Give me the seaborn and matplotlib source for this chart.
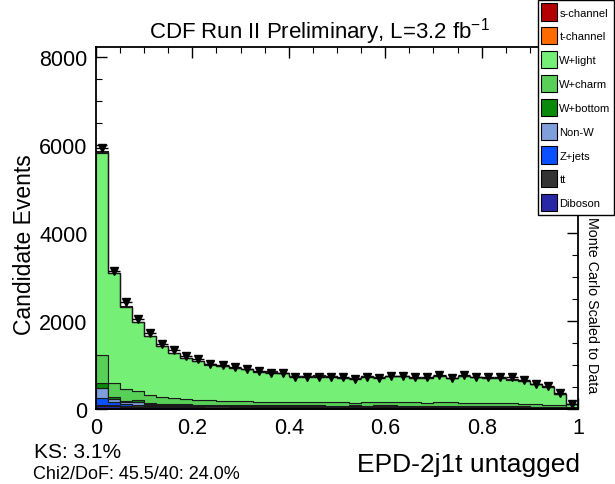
# %% EPD-2j1t untagged stack plot, CDF style
import numpy as np
import pandas as pd
import matplotlib
matplotlib.use('Agg')
import matplotlib.pyplot as plt
from matplotlib.patches import Patch
import seaborn as sns

# %%
# Stack components, 40 bins from 0 to 1
s_channel = [8, 5, 4, 4, 3, 3, 3, 3, 3, 3, 3, 3, 3, 3, 3, 3, 3, 3, 3, 3,
             3, 3, 3, 3, 3, 3, 3, 3, 3, 3, 3, 3, 3, 3, 3, 3, 3, 2, 2, 1]
t_channel = [15, 10, 8, 7, 7, 6, 6, 6, 6, 6, 5, 5, 5, 5, 5, 5, 5, 5, 5, 5,
             5, 5, 5, 5, 5, 5, 5, 5, 5, 5, 5, 5, 5, 5, 5, 5, 4, 4, 3, 1]
w_light = [4609, 2483, 1867, 1556, 1327, 1153, 1030, 935, 881, 809,
           782, 751, 725, 687, 684, 653, 594, 594, 599, 584,
           556, 561, 589, 561, 594, 594, 551, 566, 586, 551,
           599, 580, 566, 566, 539, 506, 447, 410, 253, 71]
w_charm = [638, 327, 264, 203, 188, 158, 130, 121, 109, 105,
           94, 91, 84, 74, 77, 82, 67, 69, 80, 82,
           71, 61, 79, 71, 70, 77, 85, 70, 79, 84,
           78, 80, 75, 77, 70, 67, 54, 46, 44, 26]
w_bottom = [100, 50, 37, 50, 20, 18, 16, 15, 14, 14, 13, 13, 13, 12, 12, 12, 12, 12, 12, 11,
            11, 11, 11, 25, 11, 11, 10, 10, 20, 10, 10, 10, 10, 10, 9, 9, 8, 8, 6, 2]
non_w = [240, 75, 45, 60, 25, 20, 18, 17, 16, 15, 14, 14, 13, 13, 15, 13, 12, 12, 12, 12,
         13, 20, 12, 12, 18, 12, 11, 11, 12, 14, 11, 11, 12, 11, 10, 10, 12, 9, 6, 2]
z_jets = [150, 60, 30, 20, 15, 12, 11, 10, 10, 9, 9, 9, 8, 8, 8, 8, 8, 7, 7, 7,
          7, 7, 7, 7, 6, 6, 6, 6, 6, 6, 6, 5, 5, 5, 5, 5, 4, 4, 3, 1]
ttbar = [20, 30, 25, 30, 30, 30, 28, 27, 26, 25, 25, 24, 24, 23, 23, 22, 22, 22, 21, 21,
         21, 20, 20, 20, 20, 19, 19, 19, 18, 18, 18, 17, 17, 16, 16, 15, 14, 12, 9, 4]
diboson = [70, 60, 50, 50, 45, 40, 38, 36, 35, 34, 33, 32, 31, 30, 30, 29, 29, 28, 28, 27,
           27, 26, 26, 25, 25, 25, 24, 24, 23, 23, 22, 22, 21, 21, 20, 19, 18, 16, 12, 5]

# Observed data
data_counts = [5940, 3140, 2430, 2040, 1720, 1470, 1337, 1195, 1142, 1030,
               993, 956, 920, 872, 812, 812, 737, 737, 722, 722,
               737, 677, 737, 707, 760, 760, 720, 737, 767, 707,
               767, 737, 722, 737, 737, 662, 572, 534, 361, 120]

labels = ['s-channel', 't-channel', 'W+light', 'W+charm', 'W+bottom',
          'Non-W', 'Z+jets', 'tt', 'Diboson']
colors = ['#b30000', '#ff6a00', '#76ef76', '#58d058', '#0a8a0a',
          '#7e9fdc', '#0a50ff', '#333333', '#2828a6']
components = [s_channel, t_channel, w_light, w_charm, w_bottom,
              non_w, z_jets, ttbar, diboson]

n_bins = 40
edges = np.linspace(0, 1, n_bins + 1)
centers = 0.5 * (edges[:-1] + edges[1:])

# %%
# Long table for seaborn
rows = []
for lab, vals in zip(labels, components):
    for c, v in zip(centers, vals):
        rows.append({'x': c, 'w': v, 'comp': lab})
df = pd.DataFrame(rows)

# %%
sns.set_theme(style='ticks')
plt.rcParams['font.family'] = ['Liberation Sans', 'DejaVu Sans']
plt.rcParams['xtick.direction'] = 'in'
plt.rcParams['ytick.direction'] = 'in'
plt.rcParams['text.color'] = 'black'
plt.rcParams['xtick.labelcolor'] = 'black'
plt.rcParams['ytick.labelcolor'] = 'black'

fig = plt.figure(figsize=(6.15, 4.85), dpi=100)
ax = fig.add_axes([0.156, 0.1546, 0.784, 0.747])

pal = dict(zip(labels, colors))
sns.histplot(data=df, x='x', weights='w', hue='comp', hue_order=labels,
             bins=n_bins, binrange=(0, 1), multiple='stack', element='step',
             palette=pal, alpha=1, edgecolor='#1a1a1a', linewidth=0.8,
             legend=False, ax=ax)

ax.errorbar(centers, data_counts, xerr=0.0125, yerr=np.sqrt(data_counts),
            fmt='v', color='black', ms=6, elinewidth=1, capsize=0)

ax.set_xlim(0, 1)
ax.set_ylim(0, 8230)
ax.set_xticks([0, 0.2, 0.4, 0.6, 0.8, 1.0])
ax.set_xticklabels(['0', '0.2', '0.4', '0.6', '0.8', '1'])
ax.set_xticks(np.arange(0, 1.0001, 0.05), minor=True)
ax.set_yticks([0, 2000, 4000, 6000, 8000])
ax.set_yticks(np.arange(0, 8201, 500), minor=True)
ax.tick_params(which='both', top=True, right=True, direction='in',
               color='black', labelcolor='black', labelsize=15.5)
ax.tick_params(which='major', length=8, width=1)
ax.tick_params(which='minor', length=4, width=0.8)
ax.tick_params(axis='x', which='major', pad=6)
ax.tick_params(axis='y', which='major', pad=6)
ax.set_xlabel('')
ax.set_ylabel('')
for sp in ax.spines.values():
    sp.set_linewidth(1.3)
    sp.set_color('black')

# %%
# Texts
fig.text(0.519, 0.934, r'CDF Run II Preliminary, L=3.2 fb$^{\mathregular{-1}}$',
         ha='center', va='center', fontsize=16, color='black')
fig.text(0.04, 0.495, 'Candidate Events', rotation=90, ha='center',
         va='center', fontsize=16.5, color='black')
fig.text(0.943, 0.041, 'EPD-2j1t untagged', ha='right', va='center',
         fontsize=19, color='black')
fig.text(0.055, 0.068, 'KS: 3.1%', ha='left', va='center', fontsize=15,
         color='black')
fig.text(0.053, 0.022, 'Chi2/DoF: 45.5/40: 24.0%', ha='left', va='center',
         fontsize=13, color='black')
fig.text(0.963, 0.371, 'Monte Carlo Scaled to Data', rotation=-90,
         ha='center', va='center', fontsize=10.3, color='black')

handles = [Patch(facecolor=c, edgecolor='black', linewidth=0.8) for c in colors]
leg = fig.legend(handles, labels, loc='upper right', bbox_to_anchor=(1.0, 1.0),
                 fontsize=8, frameon=True, fancybox=False, framealpha=1,
                 edgecolor='black', handlelength=1.45, handleheight=2.0,
                 handletextpad=0.2, labelspacing=0.6, borderpad=0.3,
                 borderaxespad=0.1)
leg.get_frame().set_linewidth(1)
for t in leg.get_texts():
    t.set_color('black')

fig.savefig('out.png', dpi=100)
